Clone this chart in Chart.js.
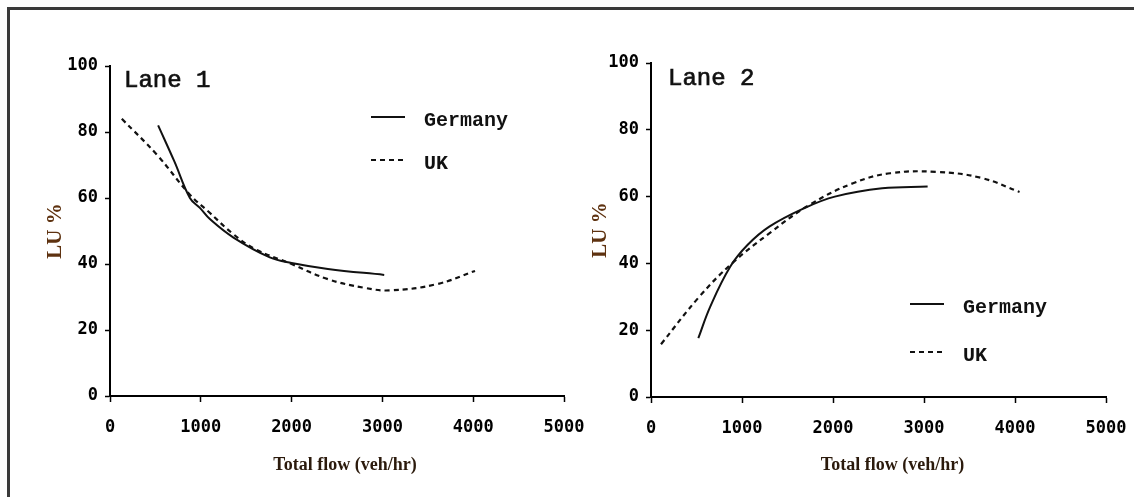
<!DOCTYPE html>
<html>
<head>
<meta charset="utf-8">
<script src="https://cdn.jsdelivr.net/npm/chart.js@4"></script>
<style>
  html, body { margin: 0; padding: 0; background: #fff; }
  body { width: 1134px; height: 497px; position: relative; overflow: hidden; }
  .frame { position: absolute; left: 7px; top: 7px; right: -10px; bottom: -10px;
           border-top: 3px solid #3a3a3a; border-left: 3px solid #3a3a3a; }
  .box { position: absolute; top: 0; height: 497px; }
  #b1 { left: 0; width: 600px; }
  #b2 { left: 560px; width: 574px; }
</style>
</head>
<body>
<div class="frame"></div>
<div class="box" id="b1"><canvas id="lane1"></canvas></div>
<div class="box" id="b2"><canvas id="lane2"></canvas></div>
<script>
// Lane 1 curves (flow in veh/hr, lane utilisation in %)
const lane1GermanyFlow = [530, 710, 880, 990, 1100, 1360, 1760, 2000, 2400, 3020];
const lane1GermanyLU   = [82, 71, 60, 57, 53.6, 48, 42, 40.3, 38.5, 36.7];
const lane1UKFlow = [130, 520, 880, 1080, 1360, 1600, 2000, 2400, 2800, 3080, 3600, 4020];
const lane1UKLU   = [84, 73, 61, 56, 49, 44.5, 40, 35.4, 32.8, 32, 33.9, 37.9];

// Lane 2 curves
const lane2GermanyFlow = [520, 650, 870, 1060, 1300, 1690, 2020, 2540, 3040];
const lane2GermanyLU   = [17.6, 27, 39, 45.5, 51, 56.6, 60, 62.5, 63];
const lane2UKFlow = [110, 530, 890, 1300, 1740, 2220, 2630, 3140, 3630, 4050];
const lane2UKLU   = [15.8, 30, 40, 49, 57.5, 64, 67, 67.4, 65.6, 61.4];

const seriesNames = ['Germany', 'UK'];
const xTicks = [0, 1000, 2000, 3000, 4000, 5000];
const yTicks = [0, 20, 40, 60, 80, 100];

function points(xs, ys) {
  return xs.map((x, i) => ({ x: x, y: ys[i] }));
}

// draws the lane label, the in-plot legend and the x title
const decor = {
  id: 'decor',
  afterDraw(chart, args, o) {
    const ctx = chart.ctx;
    const a = chart.chartArea;
    ctx.save();
    ctx.fillStyle = '#111';
    ctx.strokeStyle = '#111';
    ctx.textAlign = 'left';
    ctx.textBaseline = 'alphabetic';
    ctx.font = '24px "Liberation Mono"';
    ctx.lineWidth = 0.7;
    ctx.fillText(o.lane, a.left + o.laneDx, a.top + o.laneDy);
    ctx.strokeText(o.lane, a.left + o.laneDx, a.top + o.laneDy);

    chart.data.datasets.forEach((ds, i) => {
      const y = a.top + o.legY + i * o.legGap;
      const x = a.left + o.legX;
      ctx.beginPath();
      ctx.setLineDash(ds.borderDash || []);
      ctx.lineWidth = ds.borderWidth;
      ctx.strokeStyle = ds.borderColor;
      ctx.moveTo(x, y);
      ctx.lineTo(x + 34, y);
      ctx.stroke();
      ctx.setLineDash([]);
      ctx.font = 'bold 20px "Liberation Mono"';
      ctx.textBaseline = 'middle';
      ctx.fillText(ds.label, x + 53, y + 4);
    });

    ctx.font = 'bold 18px "Liberation Serif"';
    ctx.fillStyle = '#2b1a0c';
    ctx.textAlign = 'center';
    ctx.textBaseline = 'middle';
    ctx.fillText('Total flow (veh/hr)', (a.left + a.right) / 2 + o.titleDx, 465);
    ctx.restore();
  }
};

function makeChart(id, germany, uk, pad, yWidth, deco) {
  const tickFont = { family: '"DejaVu Sans Mono"', weight: 'bold', size: 17 };
  new Chart(document.getElementById(id), {
    type: 'line',
    data: {
      datasets: [{
        label: seriesNames[0],
        data: germany,
        borderColor: '#111',
        borderWidth: 2,
        pointRadius: 0,
        tension: 0.4
      }, {
        label: seriesNames[1],
        data: uk,
        borderColor: '#111',
        borderWidth: 2.2,
        borderDash: [5, 4],
        pointRadius: 0,
        tension: 0.4
      }]
    },
    options: {
      responsive: true,
      maintainAspectRatio: false,
      animation: false,
      events: [],
      layout: { padding: pad },
      plugins: {
        legend: { display: false },
        tooltip: { enabled: false },
        decor: deco
      },
      scales: {
        x: {
          type: 'linear',
          min: 0,
          max: 5000,
          afterBuildTicks: s => { s.ticks = xTicks.map(v => ({ value: v })); },
          afterFit: s => { s.height = 100; s.paddingLeft = 0; s.paddingRight = 0; },
          ticks: { font: tickFont, color: '#000', padding: 15, maxRotation: 0, callback: v => String(v) },
          grid: { drawOnChartArea: false, tickLength: 6, tickColor: '#000', tickWidth: 1.5 },
          border: { color: '#000', width: 2 }
        },
        y: {
          min: 0,
          max: 100,
          afterBuildTicks: s => { s.ticks = yTicks.map(v => ({ value: v })); },
          afterFit: s => { s.width = yWidth; s.paddingTop = 0; s.paddingBottom = 0; },
          ticks: { font: tickFont, color: '#000', padding: 7, callback: v => String(v) },
          grid: { drawOnChartArea: false, tickLength: 5, tickColor: '#000', tickWidth: 1.5 },
          border: { color: '#000', width: 2 },
          title: {
            display: true,
            text: 'LU %',
            color: '#5e3210',
            font: { family: '"Liberation Serif"', weight: 'bold', size: 21 },
            padding: { top: 3, bottom: 0 }
          }
        }
      }
    },
    plugins: [decor]
  });
}

makeChart('lane1',
  points(lane1GermanyFlow, lane1GermanyLU),
  points(lane1UKFlow, lane1UKLU),
  { top: 66, right: 36, bottom: 1, left: 40 }, 70,
  { lane: 'Lane 1', laneDx: 14, laneDy: 21, legX: 261, legY: 51, legGap: 43, titleDx: 8 });

makeChart('lane2',
  points(lane2GermanyFlow, lane2GermanyLU),
  points(lane2UKFlow, lane2UKLU),
  { top: 63, right: 28, bottom: 0, left: 25 }, 66,
  { lane: 'Lane 2', laneDx: 17, laneDy: 22, legX: 259, legY: 241, legGap: 48, titleDx: 14 });
</script>
</body>
</html>
